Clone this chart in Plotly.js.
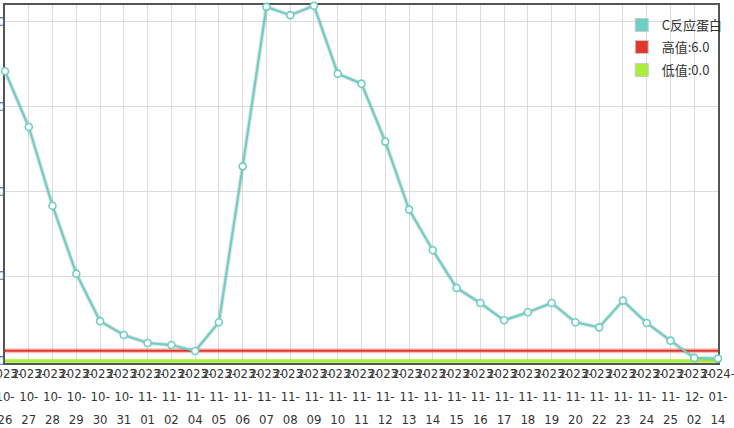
<!DOCTYPE html>
<html>
<head>
<meta charset="utf-8">
<script src="https://cdn.plot.ly/plotly-3.0.1.min.js"></script>
<style>
  html, body { margin: 0; padding: 0; background: #fff; }
  #chart { width: 734px; height: 428px; }
</style>
</head>
<body>
<div id="chart"></div>
<script>
// ---- data ----
const dates = [
  "2023-10-26", "2023-10-27", "2023-10-28", "2023-10-29", "2023-10-30", "2023-10-31",
  "2023-11-01", "2023-11-02", "2023-11-04", "2023-11-05", "2023-11-06", "2023-11-07",
  "2023-11-08", "2023-11-09", "2023-11-10", "2023-11-11", "2023-11-12", "2023-11-13",
  "2023-11-14", "2023-11-15", "2023-11-16", "2023-11-17", "2023-11-18", "2023-11-19",
  "2023-11-20", "2023-11-22", "2023-11-23", "2023-11-24", "2023-11-25", "2023-12-02",
  "2024-01-14"
];
const crpValues = [
  170.9, 138.0, 91.6, 51.5, 23.5, 15.3,
  10.6, 9.4, 5.9, 22.8, 114.8, 208.9,
  204.0, 209.6, 169.5, 163.6, 129.4, 89.3,
  65.3, 43.1, 34.2, 24.0, 28.7, 34.2,
  22.8, 19.8, 35.6, 22.4, 12.0, 1.8,
  1.4
];
const highValue = 6.0;
const lowValue = 0.0;
const seriesNames = ["C反应蛋白", "高值:6.0", "低值:0.0"];
const yTickVals = [0, 50, 100, 150, 200];

// ---- derived ----
const highLine = dates.map(() => highValue);
const lowLine = dates.map(() => lowValue);
const small = t => '<span style="font-size:13px">' + t + '</span>';
const tickText = dates.map(d => {
  const p = d.split("-");
  return small(p[0] + "-") + "<br>" + small(p[1] + "-") + "<br>" + small(p[2]);
});

const teal = "#6dcfc3";
const red = "#e2362b";
const lime = "#a9ee3c";

const traces = [
  { x: dates, y: lowLine, type: "scatter", mode: "lines",
    line: { color: lime, width: 3.5 }, showlegend: false, hoverinfo: "skip" },
  { x: dates, y: highLine, type: "scatter", mode: "lines",
    line: { color: "rgba(226,54,43,0.30)", width: 5 }, showlegend: false, hoverinfo: "skip" },
  { x: dates, y: highLine, type: "scatter", mode: "lines",
    line: { color: red, width: 2 }, showlegend: false, hoverinfo: "skip" },
  { x: dates, y: crpValues, type: "scatter", mode: "lines",
    line: { color: "rgba(0,0,0,0.10)", width: 4.5 }, showlegend: false, hoverinfo: "skip" },
  { x: dates, y: crpValues, type: "scatter", mode: "lines+markers", cliponaxis: false,
    line: { color: teal, width: 2.2 },
    marker: { symbol: "circle", size: 7, color: "#ffffff", line: { color: teal, width: 1.6 } },
    showlegend: false, name: seriesNames[0] },
  { x: [null], y: [null], type: "scatter", mode: "markers", name: seriesNames[0], legend: "legend",
    marker: { symbol: "square", size: 13, color: teal, line: { color: "#c8c8c8", width: 1 } } },
  { x: [null], y: [null], type: "scatter", mode: "markers", name: seriesNames[1], legend: "legend2",
    marker: { symbol: "square", size: 13, color: red, line: { color: "#c8c8c8", width: 1 } } },
  { x: [null], y: [null], type: "scatter", mode: "markers", name: seriesNames[2], legend: "legend3",
    marker: { symbol: "square", size: 13, color: lime, line: { color: "#c8c8c8", width: 1 } } }
];

// legend rows placed inside the plot area (paper coords: plot spans y=5..363 px)
const legendStyle = (yPix) => ({
  x: 0.865, xanchor: "left",
  yref: "paper", y: (363 - yPix) / 358, yanchor: "middle",
  bgcolor: "rgba(255,255,255,0)", borderwidth: 0,
  font: { family: "'Noto Sans CJK SC', sans-serif", size: 13, color: "#333" },
  itemwidth: 30
});

const layout = {
  width: 734, height: 428,
  margin: { l: 5, r: 16, t: 5, b: 65 },
  paper_bgcolor: "#ffffff",
  plot_bgcolor: "#ffffff",
  showlegend: true,
  legend: legendStyle(25),
  legend2: legendStyle(47),
  legend3: legendStyle(70),
  xaxis: {
    type: "category",
    range: [0, 30],
    tickmode: "array", tickvals: dates, ticktext: tickText,
    tickangle: 0,
    showgrid: true, gridcolor: "#dcdcdc", gridwidth: 1,
    showline: true, linecolor: "#555", linewidth: 2, mirror: true,
    ticks: "", zeroline: false,
    layer: "below traces",
    ticklabelstandoff: -9,
    tickfont: { family: "'Liberation Sans Narrow', 'DejaVu Sans Condensed', sans-serif", size: 18, color: "#333" },
    fixedrange: true
  },
  yaxis: {
    range: [-1.2, 210],
    tickmode: "array", tickvals: yTickVals,
    showgrid: true, gridcolor: "#dcdcdc", gridwidth: 1,
    showline: true, linecolor: "#555", linewidth: 2, mirror: true,
    ticks: "", zeroline: false,
    layer: "below traces",
    ticklabelstandoff: -4,
    tickfont: { family: "'Liberation Sans', sans-serif", size: 12, color: "#4a6fa5" },
    fixedrange: true
  }
};

Plotly.newPlot("chart", traces, layout, { displayModeBar: false, staticPlot: true });
</script>
</body>
</html>
